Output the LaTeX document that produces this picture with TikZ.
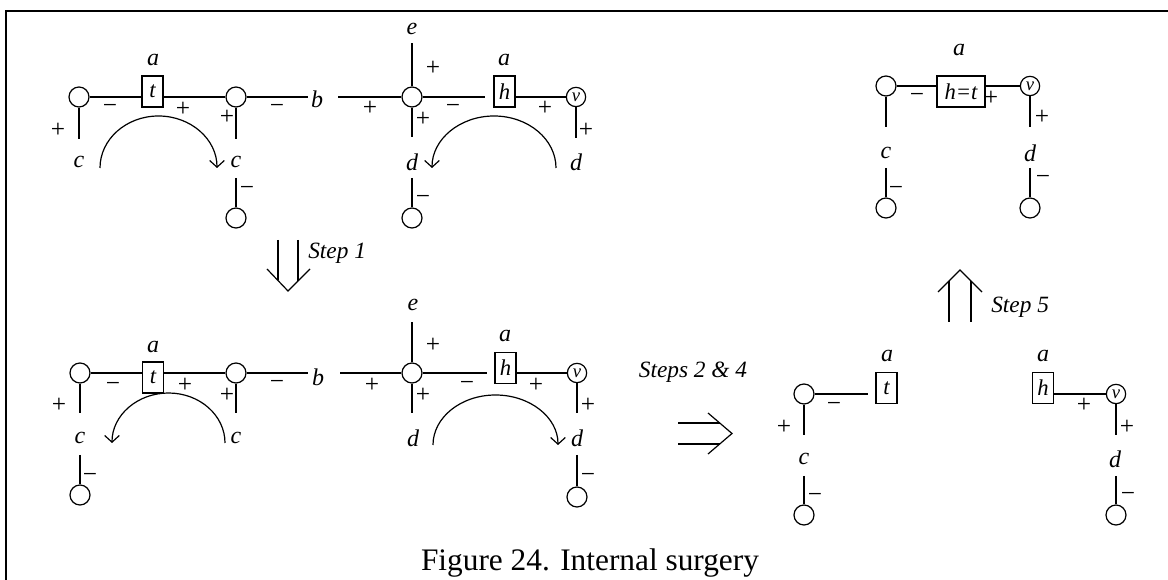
\documentclass[tikz,border=0pt]{standalone}
\usepackage{fontspec}
\setmainfont{Liberation Serif}
\usetikzlibrary{arrows.meta}
\begin{document}
\begin{tikzpicture}[x=0.75pt,y=-0.75pt]
\tikzset{
 vtx/.style={circle,draw,minimum size=15pt,inner sep=0pt,line width=0.9pt},
 vv/.style={vtx,minimum size=14.5pt,font=\itshape\fontsize{14}{14}\selectfont},
 bx/.style={draw,minimum width=15.75pt,minimum height=23.25pt,inner sep=0pt,line width=0.9pt,font=\itshape\fontsize{17}{17}\selectfont},
 lab/.style={inner sep=0pt,font=\itshape\fontsize{18}{18}\selectfont},
 sg/.style={inner sep=0pt,font=\fontsize{19}{19}\selectfont},
 stp/.style={inner sep=0pt,font=\itshape\fontsize{17.5}{17.5}\selectfont},
 ln/.style={line width=0.8pt},
 stem/.style={line width=1pt},
 curv/.style={line width=0.9pt,-{Straight Barb[length=5pt,width=11pt,line width=0.9pt]}},
 dbl/.style={line width=0.9pt}
}
\path[use as bounding box] (0,0) rectangle (1168,580);
% frame
\draw[line width=1.8pt] (6,580) -- (6,11) -- (1168,11);

% ===== Row 1 =====
\node[vtx] (A1) at (79,97) {};
\node[bx] (T1) at (152.5,91.5) {t};
\node[vtx] (B1) at (236,97) {};
\node[lab] (b1) at (317,99) {b};
\node[vtx] (D1) at (412,97) {};
\node[bx] (H1) at (504.5,91.5) {h};
\node[vv] (V1) at (576,97) {v};
\node[vtx] (C1) at (236,218) {};
\node[vtx] (E1) at (412,218) {};
\coordinate (b1l) at (308,97);
\coordinate (b1r) at (338,97);
\coordinate (H1l) at (485,97);
\coordinate (A1s) at (79,139);
\coordinate (B1s) at (236,139);
\coordinate (B1t) at (236,178);
\coordinate (D1u) at (412,43);
\coordinate (D1s) at (412,137);
\coordinate (D1t) at (412,178);
\coordinate (V1s) at (576,138);
\draw[ln] (A1) -- (A1 -| T1.west);
\draw[ln] (T1.east |- B1) -- (B1);
\draw[ln] (B1) -- (b1l);
\draw[ln] (b1r) -- (D1);
\draw[ln] (D1) -- (H1l);
\draw[ln] (H1.east |- V1) -- (V1);
\draw[stem] (A1) -- (A1s);
\draw[stem] (B1) -- (B1s);
\draw[stem] (B1t) -- (C1);
\draw[stem] (D1) -- (D1u);
\draw[stem] (D1) -- (D1s);
\draw[stem] (D1t) -- (E1);
\draw[stem] (V1) -- (V1s);
\node[lab] (la1) at (153,60) {a};
\node[lab] (lc1) at (79,162) {c};
\node[lab] (lc2) at (236,162) {c};
\node[lab] (le1) at (412,29) {e};
\node[lab] (ld1) at (412,162) {d};
\node[lab] (la2) at (504,60) {a};
\node[lab] (ld2) at (576,162) {d};
\node[sg] (s1) at (58,130) {+};
\node[sg] (s2) at (110,109) {−};
\node[sg] (s3) at (183,109) {+};
\node[sg] (s4) at (227,117) {+};
\node[sg] (s5) at (277,109) {−};
\node[sg] (s6) at (247,191) {−};
\node[sg] (s7) at (370,108) {+};
\node[sg] (s8) at (433,68) {+};
\node[sg] (s9) at (423,119) {+};
\node[sg] (s10) at (423,200) {−};
\node[sg] (s11) at (453,109) {−};
\node[sg] (s12) at (545,108) {+};
\node[sg] (s13) at (586,130) {+};
\coordinate (r1) at (100,168);
\draw[curv] (r1) arc[start angle=180,end angle=360,x radius=58.5,y radius=52];
\coordinate (r2) at (556,168);
\draw[curv] (r2) arc[start angle=0,end angle=-180,x radius=62,y radius=52];

% Step 1 arrow
\draw[dbl] (278,240) -- (278,280.5);
\draw[dbl] (298,240) -- (298,281);
\draw[dbl] (267,269) -- (288,291) -- (310,269);
\node[stp,anchor=west] (st1) at (308,253) {Step 1};

% ===== Row 2 =====
\node[vtx] (A2) at (80,373) {};
\node[bx] (T2) at (153,377.5) {t};
\node[vtx] (B2) at (236,373) {};
\node[lab] (b2) at (318,377) {b};
\node[vtx] (D2) at (412,373) {};
\node[bx] (H2) at (505.5,368) {h};
\node[vv] (V2) at (577,373) {v};
\node[vtx] (C2) at (80,495) {};
\node[vtx] (E2) at (577,497) {};
\coordinate (b2l) at (308,373);
\coordinate (b2r) at (340,373);
\coordinate (H2l) at (487,373);
\coordinate (A2s) at (80,413);
\coordinate (A2t) at (80,455);
\coordinate (B2s) at (236,413);
\coordinate (D2u) at (412,322);
\coordinate (D2s) at (412,413);
\coordinate (V2s) at (577,413);
\coordinate (V2t) at (577,455);
\draw[ln] (A2) -- (A2 -| T2.west);
\draw[ln] (T2.east |- B2) -- (B2);
\draw[ln] (B2) -- (b2l);
\draw[ln] (b2r) -- (D2);
\draw[ln] (D2) -- (H2l);
\draw[ln] (H2.east |- V2) -- (V2);
\draw[stem] (A2) -- (A2s);
\draw[stem] (A2t) -- (C2);
\draw[stem] (B2) -- (B2s);
\draw[stem] (D2) -- (D2u);
\draw[stem] (D2) -- (D2s);
\draw[stem] (V2) -- (V2s);
\draw[stem] (V2t) -- (E2);
\node[lab] (la3) at (153,347) {a};
\node[lab] (la4) at (505,336) {a};
\node[lab] (le2) at (413,305) {e};
\node[lab] (lc3) at (80,438) {c};
\node[lab] (lc4) at (236,438) {c};
\node[lab] (ld3) at (413,438) {d};
\node[lab] (ld4) at (577,438) {d};
\node[sg] (t1) at (59,405) {+};
\node[sg] (t2) at (90,478) {−};
\node[sg] (t3) at (113,387) {−};
\node[sg] (t4) at (185,385) {+};
\node[sg] (t5) at (227,395) {+};
\node[sg] (t6) at (277,385) {−};
\node[sg] (t7) at (372,385) {+};
\node[sg] (t8) at (433,345) {+};
\node[sg] (t9) at (423,395) {+};
\node[sg] (t10) at (467,386) {−};
\node[sg] (t11) at (536,385) {+};
\node[sg] (t12) at (588,405) {+};
\node[sg] (t13) at (588,478) {−};
\coordinate (r3) at (225,443);
\draw[curv] (r3) arc[start angle=0,end angle=-180,x radius=56.5,y radius=50];
\coordinate (r4) at (433,445);
\draw[curv] (r4) arc[start angle=180,end angle=360,x radius=62.5,y radius=50];

% Steps 2 & 4
\node[stp] (st2) at (693,372) {Steps 2 \& 4};
\draw[dbl] (678,423) -- (720,423);
\draw[dbl] (678,444) -- (720,444);
\draw[dbl] (708,413) -- (732,433.5) -- (708,454);

% ===== Bottom right =====
\node[vtx] (F) at (804,394) {};
\node[bx] (T3) at (886.5,388) {t};
\node[vtx] (G) at (804,515) {};
\coordinate (Fl) at (868,394);
\coordinate (Fs) at (804,435);
\coordinate (Ft) at (804,476);
\draw[ln] (F) -- (Fl);
\draw[stem] (F) -- (Fs);
\draw[stem] (Ft) -- (G);
\node[lab] (la5) at (887,356) {a};
\node[lab] (lc5) at (804,459) {c};
\node[sg] (u1) at (834,407) {−};
\node[sg] (u2) at (784,427) {+};
\node[sg] (u3) at (815,498) {−};

\node[bx] (H3) at (1043,388) {h};
\node[vv] (V3) at (1116,394) {v};
\node[vtx] (K3) at (1116,515) {};
\coordinate (V3s) at (1116,435);
\coordinate (V3t) at (1116,476);
\draw[ln] (H3.east |- V3) -- (V3);
\draw[stem] (V3) -- (V3s);
\draw[stem] (V3t) -- (K3);
\node[lab] (la6) at (1043,356) {a};
\node[lab] (ld5) at (1115,459) {d};
\node[sg] (u4) at (1084,405) {+};
\node[sg] (u5) at (1127,427) {+};
\node[sg] (u6) at (1128,497) {−};

% Step 5
\draw[dbl] (949,322) -- (949,281);
\draw[dbl] (971,322) -- (971,281);
\draw[dbl] (938,292) -- (960,270) -- (982,292);
\node[stp,anchor=west] (st5) at (991,307) {Step 5};

% ===== Top right =====
\node[vtx] (I) at (886,86) {};
\node[bx,minimum width=36pt] (HT) at (961,91.5) {h=t};
\node[vv] (V4) at (1030,86) {v};
\node[vtx] (J) at (886,208) {};
\node[vtx] (K) at (1030,208) {};
\coordinate (Is) at (886,127);
\coordinate (It) at (886,168);
\coordinate (V4s) at (1030,127);
\coordinate (V4t) at (1030,168);
\draw[ln] (I) -- (I -| HT.west);
\draw[ln] (HT.east |- V4) -- (V4);
\draw[stem] (I) -- (Is);
\draw[stem] (It) -- (J);
\draw[stem] (V4) -- (V4s);
\draw[stem] (V4t) -- (K);
\node[lab] (la7) at (959,50) {a};
\node[lab] (lc6) at (886,153) {c};
\node[lab] (ld6) at (1030,153) {d};
\node[sg] (w1) at (917,98) {−};
\node[sg] (w2) at (991,98) {+};
\node[sg] (w3) at (1042,117) {+};
\node[sg] (w4) at (896,191) {−};
\node[sg] (w5) at (1043,180) {−};

% caption
\node[inner sep=0pt,font=\fontsize{23.5}{23.5}\selectfont] (cap) at (590,563) {Figure 24. Internal surgery};
\end{tikzpicture}
\end{document}
